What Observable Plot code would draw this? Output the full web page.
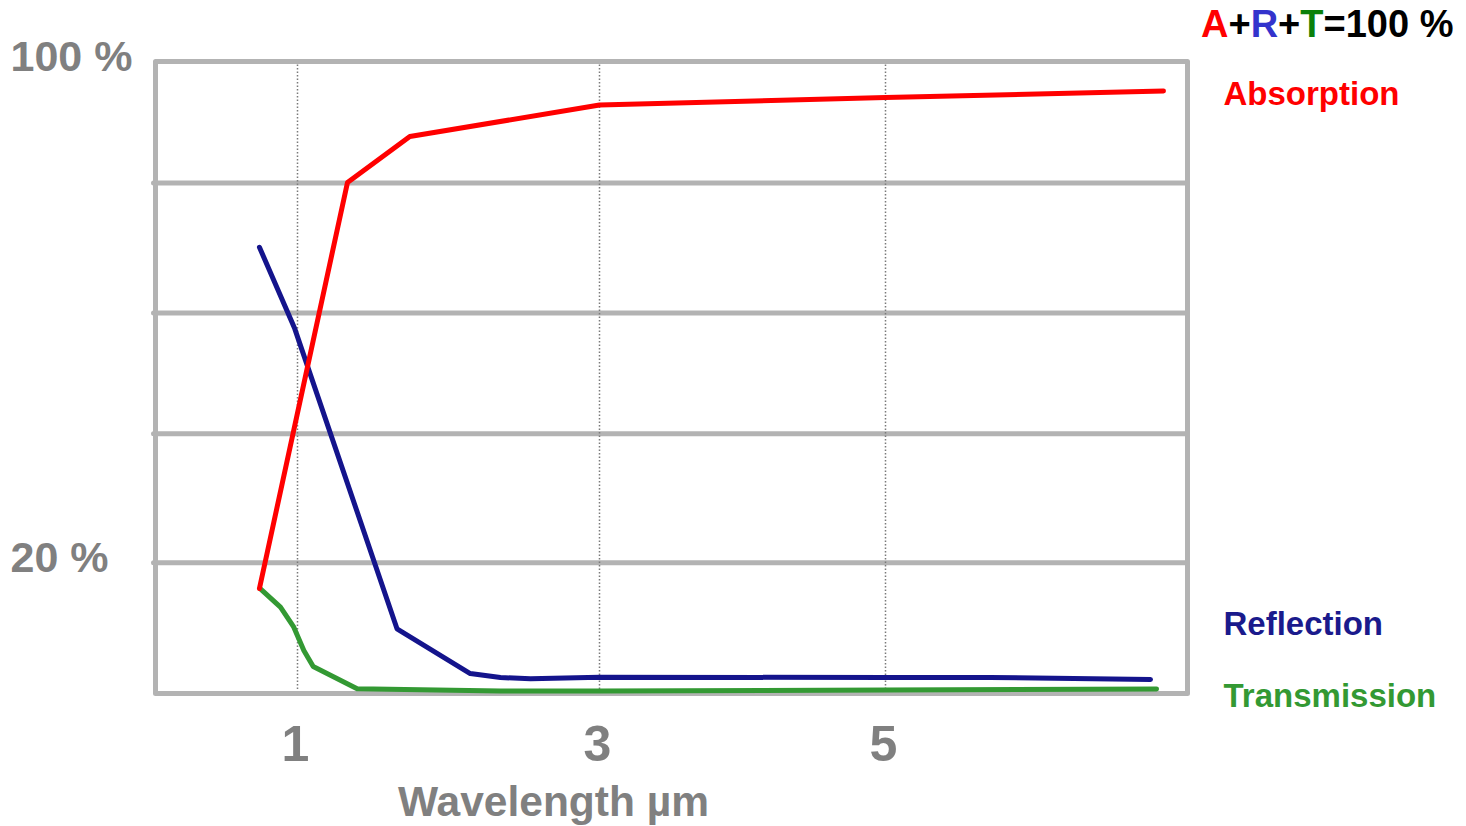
<!DOCTYPE html>
<html>
<head>
<meta charset="utf-8">
<script src="https://cdn.jsdelivr.net/npm/d3@7"></script>
<script src="https://cdn.jsdelivr.net/npm/@observablehq/plot@0.6"></script>
<style>
  html, body { margin: 0; padding: 0; background: #fff; }
  #wrap { position: relative; width: 1466px; height: 826px; font-family: "Liberation Sans", Arial, sans-serif; }
  #title { position: absolute; left: 1201px; top: 5px; font-size: 38px; font-weight: bold; line-height: 1; white-space: nowrap; color: #000; }
  #chart svg { display: block; }
</style>
</head>
<body>
<div id="wrap">
  <div id="chart"></div>
  <div id="title"><span style="color:#ff0000">A</span>+<span style="color:#3333cc">R</span>+<span style="color:#0a800a">T</span>=100 %</div>
</div>
<script>
// Wavelength (µm) and percentage values
const absorptionX = [0.732, 1.331, 1.744, 3.0, 5.0, 6.841];
const absorptionY = [16.06, 80.08, 87.65, 92.84, 94.07, 95.14];

const reflectionX = [0.732, 0.981, 1.659, 2.144, 2.344, 2.543, 3.0, 5.0, 5.695, 6.755];
const reflectionY = [70.12, 57.38, 9.88, 3.02, 2.41, 2.21, 2.45, 2.41, 2.41, 2.10];

const transmissionX = [0.739, 0.880, 0.974, 1.042, 1.104, 1.395, 2.344, 3.0, 5.0, 6.795];
const transmissionY = [16.01, 13.19, 10.12, 6.55, 4.10, 0.67, 0.34, 0.34, 0.49, 0.64];

const xTicks = [1, 3, 5];
const yGrid = [20, 40, 60, 80];
const yTickLabels = [100, 20];
const seriesNames = ["Absorption", "Reflection", "Transmission"];
const seriesColors = ["#ff0000", "#14148c", "#339933"];
const labelColors = ["#ff0000", "#1a1a8c", "#339933"];
const xTitle = "Wavelength µm";

const toRows = (xs, ys) => xs.map((x, i) => ({x, y: ys[i]}));
const absorption = toRows(absorptionX, absorptionY);
const reflection = toRows(reflectionX, reflectionY);
const transmission = toRows(transmissionX, transmissionY);

const gray = "#808080";
const gridColor = "#b3b3b3";
const font = "Liberation Sans, Arial, sans-serif";

const chart = Plot.plot({
  width: 1466,
  height: 826,
  marginLeft: 155,
  marginRight: 279,
  marginTop: 61,
  marginBottom: 133,
  style: {fontFamily: font, background: "#fff"},
  x: {type: "linear", domain: [0, 1, 3, 5, 7], range: [155, 297, 599, 885, 1187], axis: null},
  y: {type: "linear", domain: [0, 20, 40, 60, 80, 100], range: [692.7, 562.3, 433.3, 312.5, 182.5, 61], axis: null},
  marks: [
    Plot.ruleY(yGrid, {stroke: gridColor, strokeWidth: 5, insetLeft: -1.5, strokeLinecap: "round"}),
    Plot.ruleX(xTicks, {stroke: "#7a7a7a", strokeWidth: 1.5, strokeDasharray: "1.5 2"}),
    Plot.frame({stroke: gridColor, strokeWidth: 5, strokeLinejoin: "round"}),
    Plot.line(transmission, {x: "x", y: "y", stroke: seriesColors[2], strokeWidth: 5, strokeLinecap: "round", strokeLinejoin: "round"}),
    Plot.line(reflection, {x: "x", y: "y", stroke: seriesColors[1], strokeWidth: 5, strokeLinecap: "round", strokeLinejoin: "round"}),
    Plot.line(absorption, {x: "x", y: "y", stroke: seriesColors[0], strokeWidth: 5, strokeLinecap: "round", strokeLinejoin: "round"}),
    // y tick labels
    Plot.text(yTickLabels, {y: d => d, text: d => d + " %", frameAnchor: "left", dx: -145, dy: 9, textAnchor: "start", lineAnchor: "bottom", fontSize: 43, fontWeight: "bold", fill: gray}),
    // x tick labels
    Plot.text(xTicks, {x: d => d, text: d => String(d), frameAnchor: "bottom", dx: -2, dy: 67, lineAnchor: "bottom", fontSize: 50, fontWeight: "bold", fill: gray}),
    // x axis title
    Plot.text([xTitle], {text: d => d, frameAnchor: "bottom", dx: -118, dy: 122, lineAnchor: "bottom", fontSize: 42.5, fontWeight: "bold", fill: gray}),
    // series labels
    Plot.text([seriesNames[0]], {text: d => d, frameAnchor: "top-right", dx: 36, dy: 43, textAnchor: "start", lineAnchor: "bottom", fontSize: 33, fontWeight: "bold", fill: labelColors[0]}),
    Plot.text([seriesNames[1]], {text: d => d, frameAnchor: "top-right", dx: 36, dy: 573, textAnchor: "start", lineAnchor: "bottom", fontSize: 33, fontWeight: "bold", fill: labelColors[1]}),
    Plot.text([seriesNames[2]], {text: d => d, frameAnchor: "top-right", dx: 36, dy: 645, textAnchor: "start", lineAnchor: "bottom", fontSize: 33, fontWeight: "bold", fill: labelColors[2]})
  ]
});
document.getElementById("chart").appendChild(chart);
</script>
</body>
</html>
